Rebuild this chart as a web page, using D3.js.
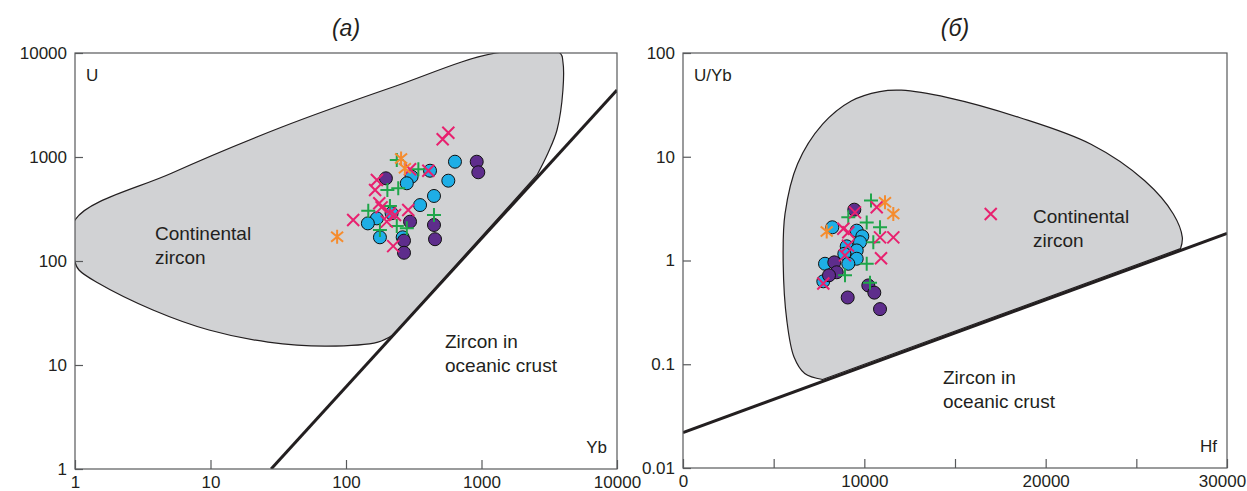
<!DOCTYPE html>
<html>
<head>
<meta charset="utf-8">
<script src="https://cdn.jsdelivr.net/npm/d3@7"></script>
<style>
  body { margin: 0; background: #fff; }
  text { font-family: "Liberation Sans", Arial, sans-serif; fill: #231f20; }
</style>
</head>
<body>
<svg id="chart" width="1247" height="491"></svg>
<script>
// ---- panel (а): U vs Yb ----
const aBlue = [[637,901],[417,738],[569,592],[305,647],[281,559],[446,422],[352,345],[217,288],[169,257],[145,230],[178,169],[262,169]];
const aPurple = [[197,624],[297,239],[446,222],[454,162],[268,157],[268,120],[922,901],[947,713]];
const aGreen = [[237,935],[342,762],[202,481],[243,500],[146,305],[211,338],[178,199],[237,217],[281,206],[446,277]];
const aPink = [[569,1713],[517,1480],[297,762],[405,738],[169,601],[164,481],[176,359],[183,328],[113,248],[211,288],[230,277],[288,309],[200,239],[223,139]];
const aOrange = [[86,171],[255,968],[272,778]];
// boundary of the continental field (Yb, U), closed along the oceanic line
const aField = [[222,19.4],[172,16.6],[72.4,15.2],[26.6,16.6],[9.75,21.7],[3.76,33.8],[1.48,61.4],[1.07,81.9],[1,97.8],
  [1,248],[5.2,702],[33.7,1942],[222,4710],[1280,10000],[3795,10000],[3990,8190],[3990,4410],[3607,1819],[3097,1093],[2570,671]];
const aLine = [[28,1],[10000,4410]];
const aTicks = [1,10,100,1000,10000];

// ---- panel (б): U/Yb vs Hf ----
const bBlue = [[8234,2.09],[9580,1.94],[9888,1.71],[9762,1.50],[9028,1.37],[9580,1.25],[8896,1.16],[9580,1.04],[9116,0.93],[7831,0.93],[7738,0.63]];
const bPurple = [[9447,3.09],[8344,0.96],[8477,0.77],[8052,0.72],[10219,0.575],[10550,0.49],[9083,0.44],[10865,0.34]];
const bGreen = [[10368,3.78],[9116,2.61],[10131,2.33],[10865,2.09],[10495,1.50],[10131,0.93],[8934,0.72],[10313,0.61]];
const bPink = [[10683,3.26],[9486,2.91],[8841,2.02],[9116,1.87],[10865,1.67],[11598,1.67],[9100,1.39],[8934,1.12],[10920,1.05],[7738,0.60],[16970,2.81]];
const bOrange = [[7925,1.90],[11140,3.64],[11598,2.81]];
const bField = [[7699,0.0713],[6712,0.0815],[6122,0.1175],[5725,0.265],[5526,0.93],[5625,2.81],[6315,8.51],[7699,20.6],
  [9276,34.5],[10854,42.5],[12039,43.8],[14604,37.2],[18552,23.9],[22501,13.2],[25463,5.87],[27040,2.81],[27536,1.67],[27437,1.30]];
const bLine = [[0,0.022],[30000,1.82]];
const bXTicks = [0,5000,10000,15000,20000,25000,30000];
const bXLabels = [0,10000,20000,30000];
const bYTicks = [0.01,0.1,1,10,100];

const svg = d3.select("#chart");

const colors = { blue: "#1eaee6", purple: "#5e2d8c", green: "#1fa64a", pink: "#e8216f", orange: "#f58c2e", field: "#d1d2d4" };

function drawPanel(opt) {
  const x = opt.x, y = opt.y;
  const g = svg.append("g");
  const x0 = x.range()[0], x1 = x.range()[1], y0 = y.range()[0], y1 = y.range()[1];

  g.append("clipPath").attr("id", opt.id + "clip")
    .append("rect").attr("x", x0).attr("y", y1).attr("width", x1 - x0).attr("height", y0 - y1);
  const plot = g.append("g").attr("clip-path", `url(#${opt.id}clip)`);

  // continental zircon field
  const fieldLine = d3.line().x(d => x(d[0])).y(d => y(d[1])).curve(d3.curveCatmullRom.alpha(0.5));
  plot.append("path")
    .attr("d", fieldLine(opt.field) + "Z")
    .attr("fill", colors.field)
    .attr("stroke", "#231f20")
    .attr("stroke-width", 1.2);

  // oceanic crust boundary
  plot.append("line")
    .attr("x1", x(opt.line[0][0])).attr("y1", y(opt.line[0][1]))
    .attr("x2", x(opt.line[1][0])).attr("y2", y(opt.line[1][1]))
    .attr("stroke", "#231f20").attr("stroke-width", 3);

  // frame
  g.append("rect").attr("x", x0).attr("y", y1).attr("width", x1 - x0).attr("height", y0 - y1)
    .attr("fill", "none").attr("stroke", "#58595b").attr("stroke-width", 1.2);

  // axes with inward ticks
  const xAxis = g.append("g").attr("transform", `translate(0,${y0})`)
    .call(d3.axisBottom(x).tickValues(opt.xTicks).tickSizeInner(-9).tickSizeOuter(0).tickPadding(7)
      .tickFormat(d => opt.xLabels.includes(d) ? d : ""));
  const yAxis = g.append("g").attr("transform", `translate(${x0},0)`)
    .call(d3.axisLeft(y).tickValues(opt.yTicks).tickSizeInner(-8).tickSizeOuter(0).tickPadding(8)
      .tickFormat(opt.yFormat));
  [xAxis, yAxis].forEach(a => {
    a.select(".domain").remove();
    a.selectAll("line").attr("stroke", "#58595b").attr("stroke-width", 1.2);
    a.selectAll("text").attr("font-size", 17).attr("font-family", "Liberation Sans, Arial, sans-serif").attr("fill", "#231f20");
  });
  // keep the last x label inside the page
  if (opt.lastShift) xAxis.selectAll(".tick text").filter(d => d === opt.xTicks[opt.xTicks.length - 1]).attr("dx", opt.lastShift);

  // markers
  const pts = plot.append("g");
  pts.selectAll(".blue").data(opt.blue).enter().append("circle")
    .attr("cx", d => x(d[0])).attr("cy", d => y(d[1])).attr("r", 6.5)
    .attr("fill", colors.blue).attr("stroke", "#111").attr("stroke-width", 1);
  pts.selectAll(".purple").data(opt.purple).enter().append("circle")
    .attr("cx", d => x(d[0])).attr("cy", d => y(d[1])).attr("r", 6.5)
    .attr("fill", colors.purple).attr("stroke", "#111").attr("stroke-width", 1);
  pts.selectAll(".green").data(opt.green).enter().append("path")
    .attr("transform", d => `translate(${x(d[0])},${y(d[1])})`)
    .attr("d", "M-7,0H7M0,-7V7")
    .attr("stroke", colors.green).attr("stroke-width", 2).attr("fill", "none");
  pts.selectAll(".pink").data(opt.pink).enter().append("path")
    .attr("transform", d => `translate(${x(d[0])},${y(d[1])})`)
    .attr("d", "M-6,-6L6,6M-6,6L6,-6")
    .attr("stroke", colors.pink).attr("stroke-width", 2).attr("fill", "none");
  pts.selectAll(".orange").data(opt.orange).enter().append("path")
    .attr("transform", d => `translate(${x(d[0])},${y(d[1])})`)
    .attr("d", "M0,-7V7M-6,-5L6,5M-6,5L6,-5")
    .attr("stroke", colors.orange).attr("stroke-width", 2).attr("fill", "none");

  // title
  g.append("text").attr("x", (x0 + x1) / 2).attr("y", 36).attr("text-anchor", "middle")
    .attr("font-size", 23).attr("font-family", "Open Sans, sans-serif").attr("font-style", "italic")
    .text(opt.title);

  // in-plot labels
  g.append("text").attr("x", x0 + 11).attr("y", y1 + 28).attr("font-size", 17).text(opt.yName);
  g.append("text").attr("x", x1 - 10).attr("y", y0 - 16).attr("text-anchor", "end").attr("font-size", 17).text(opt.xName);

  opt.notes.forEach(n => {
    const t = g.append("text").attr("x", n.x).attr("y", n.y).attr("font-size", 19);
    n.lines.forEach((s, i) => t.append("tspan").attr("x", n.x).attr("dy", i ? 24 : 0).text(s));
  });
}

drawPanel({
  id: "a",
  x: d3.scaleLog().domain([1, 10000]).range([75, 617]),
  y: d3.scaleLog().domain([1, 10000]).range([469, 53]),
  xTicks: aTicks, xLabels: aTicks, yTicks: aTicks, yFormat: d => d,
  field: aField, line: aLine,
  blue: aBlue, purple: aPurple, green: aGreen, pink: aPink, orange: aOrange,
  title: "(а)", yName: "U", xName: "Yb",
  notes: [
    { x: 155, y: 240, lines: ["Continental", "zircon"] },
    { x: 445, y: 348, lines: ["Zircon in", "oceanic crust"] }
  ]
});

drawPanel({
  id: "b",
  x: d3.scaleLinear().domain([0, 30000]).range([683, 1227]),
  y: d3.scaleLog().domain([0.01, 100]).range([468, 53]),
  xTicks: bXTicks, xLabels: bXLabels, yTicks: bYTicks, yFormat: d => d,
  field: bField, line: bLine, lastShift: -5,
  blue: bBlue, purple: bPurple, green: bGreen, pink: bPink, orange: bOrange,
  title: "(б)", yName: "U/Yb", xName: "Hf",
  notes: [
    { x: 1033, y: 223, lines: ["Continental", "zircon"] },
    { x: 943, y: 384, lines: ["Zircon in", "oceanic crust"] }
  ]
});
</script>
</body>
</html>
